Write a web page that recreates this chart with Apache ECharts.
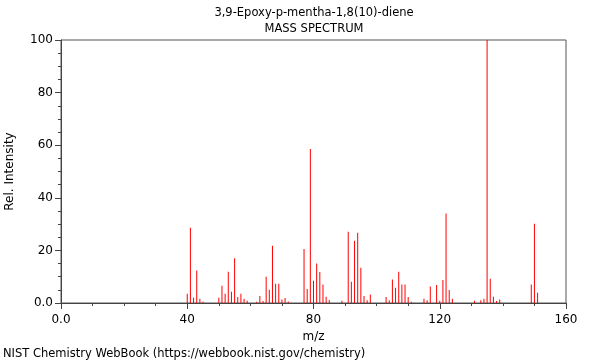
<!DOCTYPE html>
<html>
<head>
<meta charset="utf-8">
<script src="https://cdn.jsdelivr.net/npm/echarts@6/dist/echarts.min.js"></script>
<style>
html,body{margin:0;padding:0;background:#fff;}
#c{width:600px;height:360px;}
</style>
</head>
<body>
<div id="c"></div>
<script>
var mz = [40,41,42,43,44,45,50,51,52,53,54,55,56,57,58,59,62,63,64,65,66,67,68,69,70,71,72,77,78,79,80,81,82,83,84,85,89,91,92,93,94,95,96,97,98,103,104,105,106,107,108,109,110,111,115,116,117,119,120,121,122,123,124,131,133,134,135,136,137,138,139,149,150,151];
var intensity = [3.5,28.6,2,12.4,1.6,0.5,2,6.6,3.5,11.9,4.3,17,2.3,3.5,1.6,0.9,0.5,2.7,0.8,10,5,21.8,7.3,7.3,1.3,1.9,0.6,20.5,5.3,58.6,8.5,15,11.8,7,2.4,1.1,0.9,27.1,8.1,23.7,26.7,13.4,2.7,1,3.2,2.3,1,8.9,5.8,11.9,7,7,2.3,0.5,1.6,1,6.3,6.8,0.9,8.7,34,4.9,1.6,0.9,1,1.6,100,9.2,2.4,0.8,1.3,7,30.1,3.9];
var xTicks = [0,40,80,120,160];
var yTicks = [0,20,40,60,80,100];

var data = mz.map(function(m,i){return [m,intensity[i]];});
var font = 'DejaVu Sans';
var chart = echarts.init(document.getElementById('c'), null, {renderer:'canvas'});
chart.setOption({
  animation:false,
  backgroundColor:'#fff',
  textStyle:{fontFamily:font},
  title:[
    {text:'3,9-Epoxy-p-mentha-1,8(10)-diene', left:314, top:7, textAlign:'center', padding:0,
     textStyle:{fontSize:11.5, fontWeight:'normal', color:'#000', fontFamily:font}},
    {text:'MASS SPECTRUM', left:314, top:23, textAlign:'center', padding:0,
     textStyle:{fontSize:11.5, fontWeight:'normal', color:'#000', fontFamily:font}},
    {text:'NIST Chemistry WebBook (https://webbook.nist.gov/chemistry)', left:3, top:348, padding:0,
     textStyle:{fontSize:11.5, fontWeight:'normal', color:'#000', fontFamily:font}}
  ],
  grid:{left:61, right:34, top:40, bottom:57, show:true, borderColor:'#555', borderWidth:1,
        backgroundColor:'transparent', containLabel:false, outerBoundsMode:'none'},
  xAxis:{
    type:'value', min:xTicks[0], max:xTicks[xTicks.length-1], interval:40,
    name:'m/z', nameLocation:'middle', nameGap:22,
    nameTextStyle:{fontSize:12, color:'#000', fontFamily:font},
    axisLine:{show:true, lineStyle:{color:'#444', width:1}},
    axisTick:{show:true, inside:false, length:6, lineStyle:{color:'#444'}},
    minorTick:{show:true, splitNumber:4, length:3, lineStyle:{color:'#444'}},
    splitLine:{show:false},
    axisLabel:{fontSize:12, color:'#000', margin:11, fontFamily:font,
      formatter:function(v){return v===0?'0.0':String(v);}}
  },
  yAxis:{
    type:'value', min:yTicks[0], max:yTicks[yTicks.length-1], interval:20,
    name:'Rel. Intensity', nameLocation:'middle', nameGap:45,
    nameTextStyle:{fontSize:12, color:'#000', fontFamily:font},
    axisLine:{show:true, lineStyle:{color:'#444', width:1}},
    axisTick:{show:true, inside:false, length:6, lineStyle:{color:'#444'}},
    minorTick:{show:true, splitNumber:4, length:3, lineStyle:{color:'#444'}},
    splitLine:{show:false},
    axisLabel:{fontSize:12, color:'#000', margin:8, fontFamily:font,
      formatter:function(v){return v===0?'0.0':String(v);}}
  },
  series:[{
    type:'bar', data:data, barWidth:1, barGap:'-100%',
    itemStyle:{color:'#ff0000'}, silent:true
  }]
});
</script>
</body>
</html>
